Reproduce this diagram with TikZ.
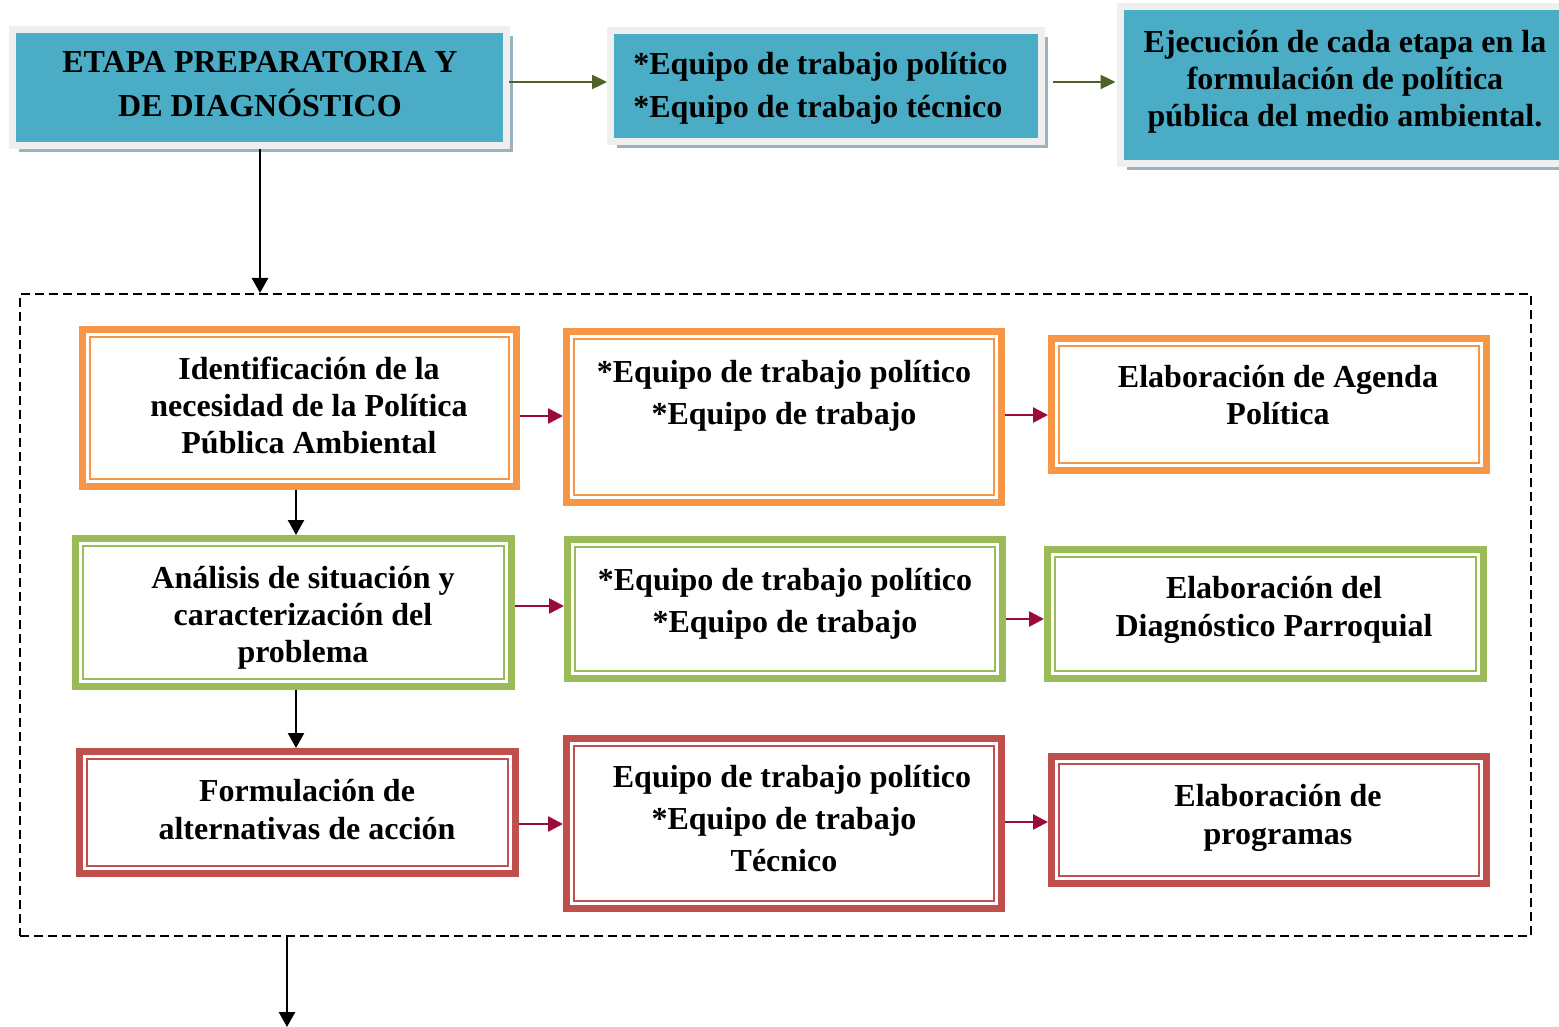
\documentclass[tikz,border=0pt]{standalone}
\usepackage{fontspec}
\setmainfont{Liberation Serif}
\usetikzlibrary{arrows.meta,shadows}
\definecolor{topblue}{HTML}{4BACC6}
\definecolor{topgrey}{HTML}{EFEFEF}
\definecolor{shadc}{HTML}{9DB2BF}
\definecolor{orng}{HTML}{F79646}
\definecolor{grn}{HTML}{9BBB59}
\definecolor{rd}{HTML}{C0504D}
\definecolor{arrred}{HTML}{9A0A3C}
\definecolor{arrgrn}{HTML}{4F6228}
\tikzset{
  txt/.style={font=\fontsize{32}{#1}\selectfont\bfseries, align=center, inner sep=0pt},
  txt/.default=37,
  topbox/.style={draw=topgrey, line width=7pt, fill=topblue, inner sep=0pt, outer sep=0pt,
    drop shadow={shadow xshift=6pt, shadow yshift=-7pt, fill=shadc, opacity=1}},
  dbox/.style={draw=#1, line width=7pt, fill=white, inner sep=0pt, outer sep=0pt},
  framebox/.style={draw=black, line width=2pt, dash pattern=on 9pt off 5pt, inner sep=0pt, outer sep=0pt},
  rarr/.style={draw=arrred, line width=2.6pt, -{Triangle[length=15pt,width=15pt]}, shorten <=3.5pt, shorten >=3.5pt},
  garr/.style={draw=arrgrn, line width=2.4pt, -{Triangle[length=15pt,width=14pt]}},
  karr/.style={draw=black, line width=2.5pt, -{Triangle[length=15pt,width=16pt]}},
}
\newcommand{\dblline}[2]{\draw[#2, line width=1.8pt] ([shift={(7.5,7.5)}]#1.north west) rectangle ([shift={(-7.5,-7.5)}]#1.south east);}
\begin{document}
\begin{tikzpicture}[x=1pt,y=-1pt]
\useasboundingbox (0,0) rectangle (1559,1027);
\clip (0,0) rectangle (1559,1027);
\fill[white] (0,0) rectangle (1559,1027);

% top row
\node[topbox, minimum width=494pt, minimum height=116pt] (top1) at (259.5,87.5) {};
\node[topbox, minimum width=431pt, minimum height=111pt] (top2) at (826,86) {};
\node[topbox, minimum width=446pt, minimum height=157pt] (top3) at (1343.5,85) {};
\node[txt=44] (ttop1) at (260,86) {\strut ETAPA PREPARATORIA Y\\\strut DE DIAGNÓSTICO};
\node[txt=43, align=left] (ttop2) at (820.5,87) {\strut *Equipo de trabajo político\\\strut *Equipo de trabajo técnico};
\node[txt=37] (ttop3) at (1345,82) {\strut Ejecución de cada etapa en la\\\strut formulación de política\\\strut pública del medio ambiental.};

% dashed frame
\node[framebox, minimum width=1511pt, minimum height=642pt] (frame) at (775.5,615) {};

% row 1
\node[dbox=orng, minimum width=434pt, minimum height=157pt] (a1) at (299.5,408) {};
\node[dbox=orng, minimum width=435pt, minimum height=171pt] (b1) at (784,417) {};
\node[dbox=orng, minimum width=435pt, minimum height=132pt] (c1) at (1269,404.5) {};
\dblline{a1}{orng}\dblline{b1}{orng}\dblline{c1}{orng}
% row 2
\node[dbox=grn, minimum width=436pt, minimum height=148pt] (a2) at (293.5,612.5) {};
\node[dbox=grn, minimum width=435pt, minimum height=139pt] (b2) at (785,609) {};
\node[dbox=grn, minimum width=436pt, minimum height=129pt] (c2) at (1265.5,614) {};
\dblline{a2}{grn}\dblline{b2}{grn}\dblline{c2}{grn}
% row 3
\node[dbox=rd, minimum width=436pt, minimum height=122pt] (a3) at (297.5,812.5) {};
\node[dbox=rd, minimum width=435pt, minimum height=170pt] (b3) at (784,823.5) {};
\node[dbox=rd, minimum width=435pt, minimum height=127pt] (c3) at (1269,820) {};
\dblline{a3}{rd}\dblline{b3}{rd}\dblline{c3}{rd}

% texts
\node[txt] (ta1) at (309,409) {\strut Identificación de la\\\strut necesidad de la Política\\\strut Pública Ambiental};
\node[txt=42] (tb1) at (784,395) {\strut *Equipo de trabajo político\\\strut *Equipo de trabajo};
\node[txt] (tc1) at (1278,399) {\strut Elaboración de Agenda\\\strut Política};
\node[txt] (ta2) at (303,618) {\strut Análisis de situación y\\\strut caracterización del\\\strut problema};
\node[txt=42] (tb2) at (785,603) {\strut *Equipo de trabajo político\\\strut *Equipo de trabajo};
\node[txt=38] (tc2) at (1274,610) {\strut Elaboración del\\\strut Diagnóstico Parroquial};
\node[txt=38] (ta3) at (307,813) {\strut Formulación de\\\strut alternativas de acción};
\node[txt=42] (tb3) at (784,821) {\strut\hspace*{16pt}Equipo de trabajo político\\\strut *Equipo de trabajo\\\strut Técnico};
\node[txt=38] (tc3) at (1278,818) {\strut Elaboración de\\\strut programas};

% helper coordinates
\coordinate (g1) at (0,82);
\coordinate (v0) at (260,0);
\coordinate (v1) at (296,0);
\coordinate (h1a) at (0,416);
\coordinate (h1b) at (0,415);
\coordinate (h2a) at (0,606);
\coordinate (h2b) at (0,619);
\coordinate (h3a) at (0,824);
\coordinate (h3b) at (0,822);
\coordinate (out) at (287,1027);

% connectors
\draw[garr, shorten <=2pt, shorten >=3.5pt] (top1.east |- g1) -- (top2.west |- g1);
\draw[garr, shorten <=11pt, shorten >=5pt] (top2.east |- g1) -- (top3.west |- g1);
\draw[karr, shorten <=3.5pt, shorten >=1pt] (top1.south -| v0) -- (frame.north -| v0);

\draw[rarr] (a1.east |- h1a) -- (b1.west |- h1a);
\draw[rarr] (b1.east |- h1b) -- (c1.west |- h1b);
\draw[rarr] (a2.east |- h2a) -- (b2.west |- h2a);
\draw[rarr] (b2.east |- h2b) -- (c2.west |- h2b);
\draw[rarr] (a3.east |- h3a) -- (b3.west |- h3a);
\draw[rarr] (b3.east |- h3b) -- (c3.west |- h3b);

\draw[karr, shorten <=3.5pt, shorten >=3.5pt] (a1.south -| v1) -- (a2.north -| v1);
\draw[karr, shorten <=3.5pt, shorten >=3.5pt] (a2.south -| v1) -- (a3.north -| v1);
\draw[karr] (out |- frame.south) -- (out);
\end{tikzpicture}
\end{document}
